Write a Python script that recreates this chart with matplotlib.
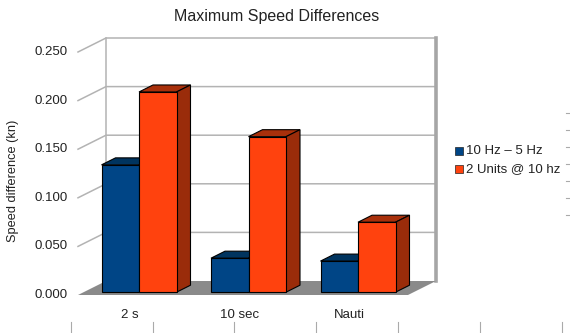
import matplotlib
matplotlib.use("Agg")
import matplotlib.pyplot as plt
from matplotlib.patches import Polygon
from matplotlib.lines import Line2D

# ---------------- data ----------------
categories = ["2 s", "10 sec", "Nauti"]
series_names = ["10 Hz \u2013 5 Hz", "2 Units @ 10 hz"]
series_1 = [0.131, 0.035, 0.032]
series_2 = [0.206, 0.160, 0.072]
y_ticks = [0.0, 0.05, 0.10, 0.15, 0.20, 0.25]
y_tick_labels = ["0.000", "0.050", "0.100", "0.150", "0.200", "0.250"]
title = "Maximum Speed Differences"
y_label = "Speed difference (kn)"

# ---------------- style ----------------
FRONT = ["#004586", "#ff420e"]
TOP = ["#00345f", "#a8300b"]
SIDE = ["#002b52", "#9a2c0a"]
GRID = "#b3b3b3"
FLOOR = "#8a8a8a"
FONT = ["Liberation Sans", "DejaVu Sans"]
plt.rcParams["font.family"] = FONT

W, H = 570, 333
fig = plt.figure(figsize=(W / 100, H / 100), dpi=100)
ax = fig.add_axes([0, 0, 1, 1])
ax.axis("off")

# pixel geometry of the category axis (layout only)
PX_X0, PX_PER_CAT = 139.0, 109.5     # category 0 at px 139
PX_Y0, PX_PER_UNIT = 295.0, 972.0    # value 0 at px 295 (from top)
ax.set_xlim(-PX_X0 / PX_PER_CAT, (W - PX_X0) / PX_PER_CAT)
ax.set_ylim(-(H - PX_Y0) / PX_PER_UNIT, PX_Y0 / PX_PER_UNIT)


def dx(px):
    return px / PX_PER_CAT


def dy(px):
    return px / PX_PER_UNIT


# oblique depth projection
DX, DY = dx(28), dy(14)


def proj(x, y, d):
    return (x + d * DX, y + d * DY)


X0 = dx(78 - PX_X0)
X1 = dx(408 - PX_X0)
YMAX = y_ticks[-1]

# floor
ax.add_patch(Polygon([proj(X0, 0, 0), proj(X1, 0, 0), proj(X1, 0, 1), proj(X0, 0, 1)],
                     closed=True, facecolor=FLOOR, edgecolor="none", zorder=1))
# walls
ax.add_patch(Polygon([proj(X0, 0, 1), proj(X1, 0, 1), proj(X1, YMAX, 1), proj(X0, YMAX, 1)],
                     closed=True, facecolor="white", edgecolor="none", zorder=0.5))
for v in y_ticks[1:]:
    p0, p1, p2 = proj(X0, v, 0), proj(X0, v, 1), proj(X1, v, 1)
    ax.plot([p0[0], p1[0], p2[0]], [p0[1], p1[1], p2[1]], color=GRID, lw=1.1, zorder=0.8,
            solid_joinstyle="miter")
a, b = proj(X0, 0, 1), proj(X0, YMAX, 1)
ax.plot([a[0], b[0]], [a[1], b[1]], color=GRID, lw=1.1, zorder=0.8)
a, b = proj(X1, 0, 1), proj(X1, YMAX, 1)
ax.plot([a[0], b[0]], [a[1], b[1]], color="#a6a6a6", lw=2.6, zorder=0.8)

# bars
BAR_W = dx(37.5)
D_FRONT, D_BAR = 0.2, 0.5
z = 2
for i in range(len(categories)):
    for s, vals in enumerate([series_1, series_2]):
        v = vals[i]
        xl = i - D_FRONT * DX + (s - 1) * BAR_W
        xr = xl + BAR_W
        fx, fy = proj(xl, 0, D_FRONT)
        ax.bar(fx, v, width=BAR_W, bottom=fy, align="edge", color=FRONT[s],
               edgecolor="black", linewidth=0.8, zorder=z + 1)
        d1 = D_FRONT + D_BAR
        top = [proj(xl, v, D_FRONT), proj(xr, v, D_FRONT), proj(xr, v, d1), proj(xl, v, d1)]
        side = [proj(xr, 0, D_FRONT), proj(xr, v, D_FRONT), proj(xr, v, d1), proj(xr, 0, d1)]
        ax.add_patch(Polygon(top, closed=True, facecolor=TOP[s], edgecolor="black",
                             linewidth=0.8, zorder=z))
        ax.add_patch(Polygon(side, closed=True, facecolor=SIDE[s], edgecolor="black",
                             linewidth=0.8, zorder=z))
        z += 2

# y tick labels (front plane)
for v, lab in zip(y_ticks, y_tick_labels):
    ax.text(dx(68 - PX_X0), v, lab, ha="right", va="center", fontsize=9.5, color="#222222")

# category labels
for i, c in enumerate(categories):
    ax.text(i - dx(9), dy(PX_Y0 - 315), c, ha="center", va="center", fontsize=9.5,
            color="#222222")

# title and axis label
fig.text(277 / W, 1 - 16 / H, title, ha="center", va="center", fontsize=11.5, color="#222222")
fig.text(13 / W, 1 - 181 / H, y_label, ha="center", va="center", rotation=90,
         fontsize=9.2, color="#222222")

# legend
for s, name in enumerate(series_names):
    yy = 1 - (151 + 18 * s) / H
    fig.patches.append(plt.Rectangle((455 / W, yy - 3.7 / H), 7.5 / W, 7.5 / H,
                                     transform=fig.transFigure, facecolor=FRONT[s],
                                     edgecolor="#222222", linewidth=0.5))
    fig.text(466 / W, yy, name, ha="left", va="center", fontsize=9.5, color="#222222")

# small stray frame ticks seen at the figure edges
for px in [71, 153, 234, 316, 398, 480, 562]:
    fig.lines.append(Line2D([px / W, px / W], [0, 11 / H], transform=fig.transFigure,
                            color="#aaaaaa", lw=0.8))
for py in range(113, 220, 17):
    fig.lines.append(Line2D([566 / W, 570 / W], [1 - py / H, 1 - py / H],
                            transform=fig.transFigure, color="#aaaaaa", lw=0.8))

fig.savefig("out.png", dpi=100)
